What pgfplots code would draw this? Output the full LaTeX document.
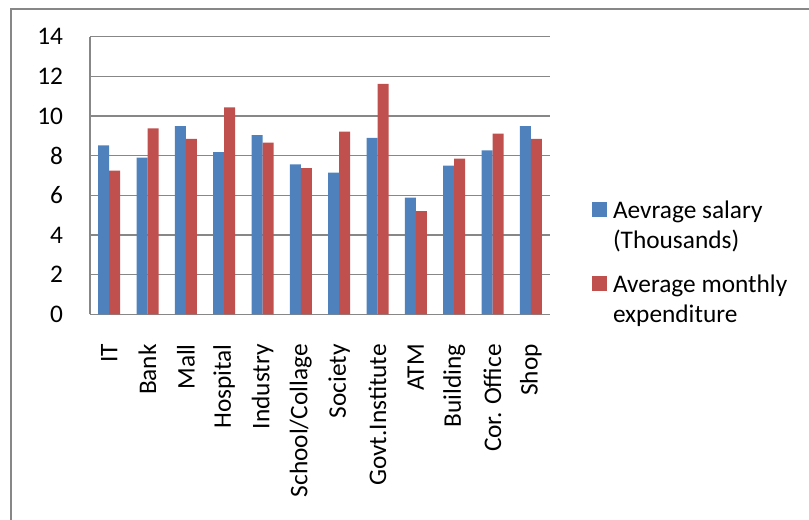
\documentclass[border=0pt]{standalone}
\usepackage{fontspec}
\setmainfont{Carlito}
\usepackage{pgfplots}
\usepackage{pgfplotstable}
\pgfplotsset{compat=1.18}

\definecolor{salary}{HTML}{4F81BD}
\definecolor{expense}{HTML}{C0504D}
\definecolor{gridgray}{HTML}{878787}

% idx  salary  expenditure  (thousands)
\pgfplotstableread{
idx salary expense
0   8.52   7.24
1   7.90   9.38
2   9.49   8.84
3   8.18   10.44
4   9.04   8.65
5   7.56   7.37
6   7.14   9.21
7   8.89   11.62
8   5.88   5.20
9   7.49   7.85
10  8.27   9.11
11  9.49   8.84
}\datatable

\begin{document}
\begin{tikzpicture}
\useasboundingbox (0pt,0pt) rectangle (606.75pt,390pt);
% outer chart frame
\draw[gridgray, line width=1.1pt] (8.25pt,-10pt) -- (8.25pt,383.25pt) -- (620pt,383.25pt);
\begin{axis}[
  at={(67.5pt,154.3pt)}, anchor=south west,
  scale only axis, width=345pt, height=208.2pt,
  ybar=0pt, bar width=8.25pt,
  xmin=-0.5, xmax=11.5, ymin=0, ymax=14,
  ytick={0,2,...,14},
  xtick={0,...,11},
  xticklabels={IT,Bank,Mall,Hospital,Industry,School/Collage,Society,Govt.Institute,ATM,Building,Cor. Office,Shop},
  axis x line*=bottom, axis y line*=left,
  axis line style={-, draw=gridgray, line width=1.1pt},
  tick style={draw=none},
  ymajorgrids, grid style={draw=gridgray, line width=1.1pt},
  /pgf/number format/assume math mode=true,
  every tick label/.append style={font=\fontsize{19}{22.5}\selectfont, inner sep=0pt},
  xticklabel style={rotate=90, anchor=east},
  yticklabel style={anchor=east},
  xticklabel shift=18pt, yticklabel shift=20pt,
  legend cell align=left,
  legend image code/.code={\fill[#1, draw=none] (0pt,6.6pt) rectangle (11.25pt,17.85pt);},
  legend style={draw=none, fill=none, inner sep=0pt, outer sep=0pt,
    at={(rel axis cs:1.0913,0.408)}, anchor=north west,
    row sep=18.4pt, column sep=4.5pt,
    font=\fontsize{19}{22.5}\selectfont,
    nodes={inner sep=0pt, align=left}},
]
\addplot[fill=salary, draw=none] table[x=idx, y=salary] {\datatable};
\addlegendentry{Aevrage salary\\(Thousands)}
\addplot[fill=expense, draw=none] table[x=idx, y=expense] {\datatable};
\addlegendentry{Average monthly\\expenditure}
\end{axis}
\end{tikzpicture}
\end{document}
